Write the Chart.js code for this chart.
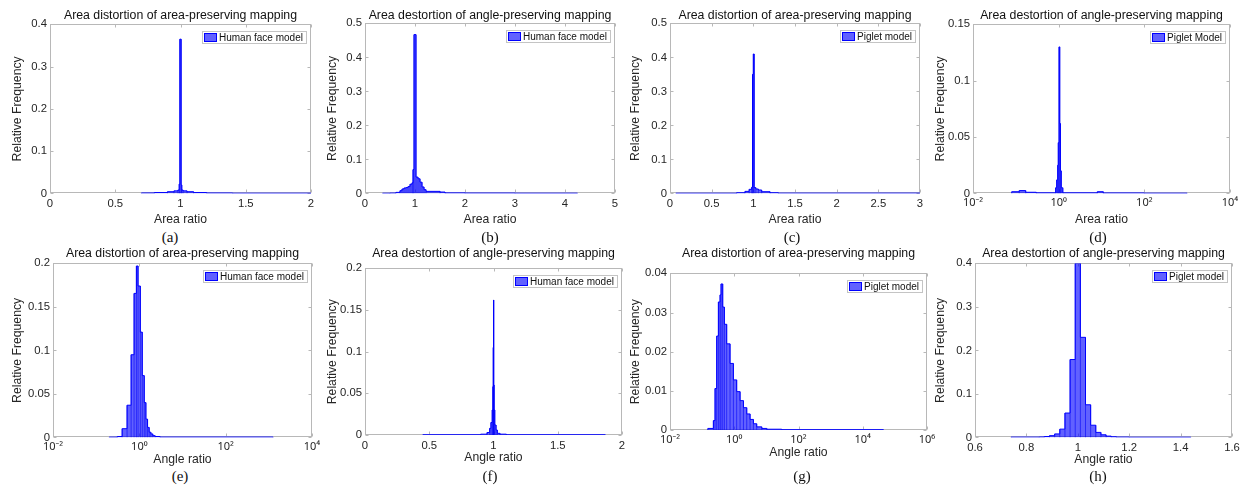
<!DOCTYPE html>
<html>
<head>
<meta charset="utf-8">
<script src="https://cdn.jsdelivr.net/npm/chart.js@4.4.1/dist/chart.umd.min.js"></script>
<style>
  html, body { margin: 0; padding: 0; background: #fff; }
  #fig { position: relative; width: 1258px; height: 492px; overflow: hidden; background: #fff; }
  .panel { position: absolute; }
  .cap { position: absolute; transform: translate(-50%, -50%); font-family: "Liberation Serif", "DejaVu Serif", serif; font-size: 15px; color: #111; white-space: nowrap; }
</style>
</head>
<body>
<div id="fig"></div>
<script>
// ---- data: bin edges + relative frequency per bin ----
const edgesA = [0.70, 0.80, 0.90, 0.95, 0.98, 0.99, 0.995, 1.005, 1.01, 1.02, 1.05, 1.10, 1.20, 1.40, 2.00];
const freqA  = [0.001, 0.002, 0.004, 0.006, 0.008, 0.022, 0.365, 0.020, 0.008, 0.006, 0.004, 0.002, 0.001, 0.0005];

const edgesB = [0.35, 0.50, 0.62, 0.70, 0.74, 0.78, 0.82, 0.86, 0.90, 0.94, 0.96, 0.98, 1.02, 1.06, 1.10, 1.14, 1.18, 1.22, 1.50, 1.60, 2.00, 3.00, 4.25];
const freqB  = [0.0005, 0.001, 0.003, 0.008, 0.013, 0.016, 0.017, 0.020, 0.027, 0.031, 0.070, 0.467, 0.048, 0.043, 0.033, 0.019, 0.011, 0.006, 0.004, 0.0015, 0.001, 0.0006];

const edgesC = [0.07, 0.80, 0.90, 0.95, 0.98, 0.99, 1.00, 1.01, 1.03, 1.06, 1.10, 1.20, 1.30, 3.00];
const freqC  = [0.0005, 0.002, 0.006, 0.012, 0.018, 0.350, 0.410, 0.017, 0.013, 0.010, 0.005, 0.002, 0.0008];

const edgesD = [0.08, 0.12, 0.17, 0.30, 0.85, 0.90, 0.95, 0.98, 1.02, 1.06, 1.10, 1.15, 1.25, 8.0, 11.0, 100, 1000];
const freqD  = [0.0015, 0.0025, 0.001, 0.0005, 0.005, 0.012, 0.025, 0.045, 0.130, 0.062, 0.020, 0.005, 0.0005, 0.0015, 0.0004, 0.0002];

const edgesE = [0.20, 0.31, 0.40, 0.52, 0.645, 0.755, 0.855, 0.935, 1.055, 1.17, 1.30, 1.42, 1.55, 1.69, 1.85, 2.05, 2.32, 3.0, 1260];
const freqE  = [0.0003, 0.001, 0.010, 0.037, 0.095, 0.1655, 0.197, 0.174, 0.121, 0.071, 0.040, 0.021, 0.0115, 0.006, 0.004, 0.002, 0.001, 0.0004];

const edgesF = [0.45, 0.90, 0.95, 0.97, 0.98, 0.99, 0.995, 0.998, 1.000, 1.002, 1.005, 1.01, 1.02, 1.03, 1.05, 1.10, 1.87];
const freqF  = [0.0003, 0.001, 0.003, 0.008, 0.015, 0.030, 0.058, 0.105, 0.162, 0.060, 0.030, 0.012, 0.006, 0.002, 0.001, 0.0003];

const edgesG = [0.15, 0.224, 0.252, 0.284, 0.321, 0.361, 0.388, 0.438, 0.493, 0.582, 0.74, 0.94, 1.19, 1.52, 1.93, 2.45, 3.11, 3.95, 5.0, 7.2, 10.3, 30, 44000];
const freqG  = [0.0004, 0.0024, 0.0106, 0.024, 0.0327, 0.0345, 0.0373, 0.0314, 0.027, 0.022, 0.017, 0.0128, 0.0098, 0.0075, 0.0057, 0.0041, 0.0027, 0.0016, 0.0008, 0.0004, 0.0002, 0.00008];

const edgesH = [0.74, 0.85, 0.87, 0.89, 0.91, 0.93, 0.95, 0.97, 0.99, 1.01, 1.03, 1.05, 1.07, 1.09, 1.11, 1.13, 1.15, 1.20, 1.44];
const freqH  = [0.0006, 0.001, 0.002, 0.004, 0.008, 0.019, 0.056, 0.179, 0.400, 0.230, 0.075, 0.028, 0.0115, 0.006, 0.003, 0.0015, 0.0008, 0.0004];

// ---- ticks ----
const xTicksA = [0, 0.5, 1, 1.5, 2];           const xLabelsA = ['0', '0.5', '1', '1.5', '2'];
const xTicksB = [0, 1, 2, 3, 4, 5];            const xLabelsB = ['0', '1', '2', '3', '4', '5'];
const xTicksC = [0, 0.5, 1, 1.5, 2, 2.5, 3];   const xLabelsC = ['0', '0.5', '1', '1.5', '2', '2.5', '3'];
const xTicksD = [0.01, 1, 100, 10000];         const xLabelsD = ['10⁻²', '10⁰', '10²', '10⁴'];
const xTicksE = [0.01, 1, 100, 10000];         const xLabelsE = ['10⁻²', '10⁰', '10²', '10⁴'];
const xTicksF = [0, 0.5, 1, 1.5, 2];           const xLabelsF = ['0', '0.5', '1', '1.5', '2'];
const xTicksG = [0.01, 1, 100, 10000, 1000000]; const xLabelsG = ['10⁻²', '10⁰', '10²', '10⁴', '10⁶'];
const xTicksH = [0.6, 0.8, 1, 1.2, 1.4, 1.6];  const xLabelsH = ['0.6', '0.8', '1', '1.2', '1.4', '1.6'];

const yTicksA = [0, 0.1, 0.2, 0.3, 0.4];        const yLabelsA = ['0', '0.1', '0.2', '0.3', '0.4'];
const yTicksB = [0, 0.1, 0.2, 0.3, 0.4, 0.5];   const yLabelsB = ['0', '0.1', '0.2', '0.3', '0.4', '0.5'];
const yTicksC = [0, 0.1, 0.2, 0.3, 0.4, 0.5];   const yLabelsC = ['0', '0.1', '0.2', '0.3', '0.4', '0.5'];
const yTicksD = [0, 0.05, 0.1, 0.15];           const yLabelsD = ['0', '0.05', '0.1', '0.15'];
const yTicksE = [0, 0.05, 0.1, 0.15, 0.2];      const yLabelsE = ['0', '0.05', '0.1', '0.15', '0.2'];
const yTicksF = [0, 0.05, 0.1, 0.15, 0.2];      const yLabelsF = ['0', '0.05', '0.1', '0.15', '0.2'];
const yTicksG = [0, 0.01, 0.02, 0.03, 0.04];    const yLabelsG = ['0', '0.01', '0.02', '0.03', '0.04'];
const yTicksH = [0, 0.1, 0.2, 0.3, 0.4];        const yLabelsH = ['0', '0.1', '0.2', '0.3', '0.4'];

const titles = [
  'Area distortion of area-preserving mapping', 'Area destortion of angle-preserving mapping',
  'Area distortion of area-preserving mapping', 'Area destortion of angle-preserving mapping',
  'Area distortion of area-preserving mapping', 'Area destortion of angle-preserving mapping',
  'Area distortion of area-preserving mapping', 'Area destortion of angle-preserving mapping'
];
const legendLabels = ['Human face model', 'Human face model', 'Piglet model', 'Piglet Model',
                      'Human face model', 'Human face model', 'Piglet model', 'Piglet model'];
const xTitles = ['Area ratio', 'Area ratio', 'Area ratio', 'Area ratio',
                 'Angle ratio', 'Angle ratio', 'Angle ratio', 'Angle ratio'];
const yTitle = 'Relative Frequency';
const captions = ['(a)', '(b)', '(c)', '(d)', '(e)', '(f)', '(g)', '(h)'];

const FONT = '"Liberation Sans", Arial, Helvetica, sans-serif';
const LOGFONT = '"Noto Sans", "DejaVu Sans", sans-serif';
const FILL = 'rgba(0, 0, 255, 0.62)';
const EDGE = '#0000ff';

// layout of each subplot (plot-box in page pixels)
const panels = [
  {edges: edgesA, freq: freqA, log: false, xMin: 0, xMax: 2, yMax: 0.4, xT: xTicksA, xL: xLabelsA, yT: yTicksA, yL: yLabelsA,
   box: {x: 50, y: 24, w: 267, h: 169}, yW: 43, titleY: 15, xH: 34, cap: [170, 237]},
  {edges: edgesB, freq: freqB, log: false, xMin: 0, xMax: 5, yMax: 0.5, xT: xTicksB, xL: xLabelsB, yT: yTicksB, yL: yLabelsB,
   box: {x: 365, y: 23, w: 257, h: 170}, yW: 43, titleY: 15, xH: 34, cap: [490, 237]},
  {edges: edgesC, freq: freqC, log: false, xMin: 0, xMax: 3, yMax: 0.5, xT: xTicksC, xL: xLabelsC, yT: yTicksC, yL: yLabelsC,
   box: {x: 670, y: 23, w: 257, h: 170}, yW: 45, titleY: 15, xH: 34, cap: [792, 237]},
  {edges: edgesD, freq: freqD, log: true, xMin: 0.01, xMax: 10000, yMax: 0.15, xT: xTicksD, xL: xLabelsD, yT: yTicksD, yL: yLabelsD,
   box: {x: 973, y: 24, w: 263, h: 169}, yW: 43, titleY: 15, xH: 34, cap: [1098, 237]},
  {edges: edgesE, freq: freqE, log: true, xMin: 0.01, xMax: 10000, yMax: 0.2, xT: xTicksE, xL: xLabelsE, yT: yTicksE, yL: yLabelsE,
   box: {x: 53, y: 263, w: 263, h: 174}, yW: 46, titleY: 253, xH: 30, cap: [180, 476]},
  {edges: edgesF, freq: freqF, log: false, xMin: 0, xMax: 2, yMax: 0.2, xT: xTicksF, xL: xLabelsF, yT: yTicksF, yL: yLabelsF,
   box: {x: 365, y: 268, w: 257, h: 169}, yW: 43, titleY: 253, xH: 30, cap: [490, 476]},
  {edges: edgesG, freq: freqG, log: true, xMin: 0.01, xMax: 1000000, yMax: 0.04, xT: xTicksG, xL: xLabelsG, yT: yTicksG, yL: yLabelsG,
   box: {x: 670, y: 273, w: 257, h: 164}, yW: 45, titleY: 253, xH: 30, cap: [802, 476]},
  {edges: edgesH, freq: freqH, log: false, xMin: 0.6, xMax: 1.6, yMax: 0.4, xT: xTicksH, xL: xLabelsH, yT: yTicksH, yL: yLabelsH,
   box: {x: 975, y: 263, w: 261, h: 174}, yW: 45, titleY: 253, xH: 30, cap: [1098, 476]}
];

// histogram outline as a stepped line: each bin's height held from its left edge
function stepPoints(edges, freq) {
  const pts = [{x: edges[0], y: 0}];
  freq.forEach((f, i) => pts.push({x: edges[i], y: f}));
  pts.push({x: edges[edges.length - 1], y: 0});
  return pts;
}
// the vertical edges between bins
function edgeLines(edges, freq) {
  const pts = [];
  for (let i = 1; i < freq.length; i++) {
    pts.push({x: edges[i], y: 0}, {x: edges[i], y: Math.max(freq[i - 1], freq[i])}, {x: edges[i], y: null});
  }
  return pts;
}

// MATLAB-ish axes box with inward ticks, and the boxed legend
const matlabAxes = {
  id: 'matlabAxes',
  beforeDatasetsDraw(chart) {
    const {ctx, chartArea: a, scales} = chart;
    const L = Math.round(a.left) + 0.5, R = Math.round(a.right) - 0.5;
    const T = Math.round(a.top) + 0.5, B = Math.round(a.bottom) - 0.5;
    ctx.save();
    ctx.strokeStyle = '#b8b8b8';
    ctx.lineWidth = 1;
    ctx.strokeRect(L, T, R - L, B - T);
    ctx.beginPath();
    scales.x.ticks.forEach(t => {
      const px = Math.round(scales.x.getPixelForValue(t.value)) + 0.5;
      ctx.moveTo(px, B); ctx.lineTo(px, B - 3);
      ctx.moveTo(px, T); ctx.lineTo(px, T + 3);
    });
    scales.y.ticks.forEach(t => {
      const py = Math.round(scales.y.getPixelForValue(t.value)) + 0.5;
      ctx.moveTo(L, py); ctx.lineTo(L + 3, py);
      ctx.moveTo(R, py); ctx.lineTo(R - 3, py);
    });
    ctx.stroke();
    ctx.restore();
  },
  afterDatasetsDraw(chart, args, opts) {
    const {ctx, chartArea: a} = chart;
    ctx.save();
    ctx.font = '10px ' + FONT;
    const tw = ctx.measureText(opts.label).width;
    const h = 12, sw = 13;
    const w = Math.round(2 + sw + 2 + tw + 3);
    const x = Math.round(a.right - 5 - w), y = Math.round(a.top + 7);
    ctx.fillStyle = '#fff';
    ctx.fillRect(x, y, w, h);
    ctx.strokeStyle = '#c4c4c4';
    ctx.lineWidth = 1;
    ctx.strokeRect(x + 0.5, y + 0.5, w, h);
    ctx.fillStyle = FILL;
    ctx.fillRect(x + 2, y + 2, sw, h - 3);
    ctx.strokeStyle = EDGE;
    ctx.strokeRect(x + 2.5, y + 2.5, sw - 1, h - 4);
    ctx.fillStyle = '#111';
    ctx.textBaseline = 'middle';
    ctx.fillText(opts.label, x + 2 + sw + 2, y + h / 2 + 1);
    ctx.restore();
  }
};

const fig = document.getElementById('fig');

panels.forEach((p, k) => {
  const wrap = document.createElement('div');
  wrap.className = 'panel';
  const cv = document.createElement('canvas');
  cv.width = p.box.w + p.yW + 14;
  cv.height = p.box.h + 20 + p.xH;
  wrap.appendChild(cv);
  fig.appendChild(wrap);

  const titleGap = p.box.y - p.titleY - 12.3 * 1.2 / 2;

  const chart = new Chart(cv, {
    type: 'line',
    data: {
      datasets: [
        {data: stepPoints(p.edges, p.freq), stepped: 'before', fill: 'origin',
         backgroundColor: FILL, borderColor: EDGE, borderWidth: 1, pointRadius: 0},
        {data: edgeLines(p.edges, p.freq), fill: false, spanGaps: false,
         borderColor: 'rgba(0, 0, 235, 0.85)', borderWidth: 0.7, pointRadius: 0}
      ]
    },
    options: {
      responsive: false,
      animation: false,
      events: [],
      layout: {padding: {left: 0, right: 14, top: 0, bottom: 0}},
      plugins: {
        legend: {display: false},
        tooltip: {enabled: false},
        title: {
          display: true, text: titles[k], fullSize: false, color: '#111',
          font: {family: FONT, size: 12.3, weight: 'normal', lineHeight: 1.2},
          padding: {top: 0, bottom: titleGap}
        },
        matlabAxes: {label: legendLabels[k]}
      },
      scales: {
        x: {
          type: p.log ? 'logarithmic' : 'linear',
          min: p.xMin, max: p.xMax,
          grid: {display: false, drawTicks: false},
          border: {display: false},
          afterBuildTicks: s => { s.ticks = p.xT.map(v => ({value: v})); },
          afterFit: s => { s.height = p.xH; },
          ticks: {padding: p.log ? 3 : 4, autoSkip: false, maxRotation: 0, color: '#262626',
                  font: {family: p.log ? LOGFONT : FONT, size: p.log ? 11 : 11.3, lineHeight: 1.2},
                  callback: (v, i) => p.xL[i]},
          title: {display: true, text: xTitles[k], color: '#262626',
                  font: {family: FONT, size: 12.2, lineHeight: 1.2}, padding: {top: 0, bottom: 0}}
        },
        y: {
          type: 'linear',
          min: 0, max: p.yMax,
          grid: {display: false, drawTicks: false},
          border: {display: false},
          afterBuildTicks: s => { s.ticks = p.yT.map(v => ({value: v})); },
          afterFit: s => { s.width = p.yW; },
          ticks: {padding: 3, autoSkip: false, color: '#262626',
                  font: {family: FONT, size: 11.3, lineHeight: 1.2},
                  callback: (v, i) => p.yL[i]},
          title: {display: true, text: yTitle, color: '#262626',
                  font: {family: FONT, size: 12.2, lineHeight: 1.2}, padding: {top: 3, bottom: 0}}
        }
      }
    },
    plugins: [matlabAxes]
  });

  // size the canvas so the plot box lands exactly where it sits in the figure
  const a = chart.chartArea;
  chart.resize(p.box.w + chart.width - (a.right - a.left), p.box.h + chart.height - (a.bottom - a.top));
  const b = chart.chartArea;
  wrap.style.left = Math.round(p.box.x - b.left) + 'px';
  wrap.style.top = Math.round(p.box.y - b.top) + 'px';

  const cap = document.createElement('div');
  cap.className = 'cap';
  cap.textContent = captions[k];
  cap.style.left = p.cap[0] + 'px';
  cap.style.top = p.cap[1] + 'px';
  fig.appendChild(cap);
});
</script>
</body>
</html>
